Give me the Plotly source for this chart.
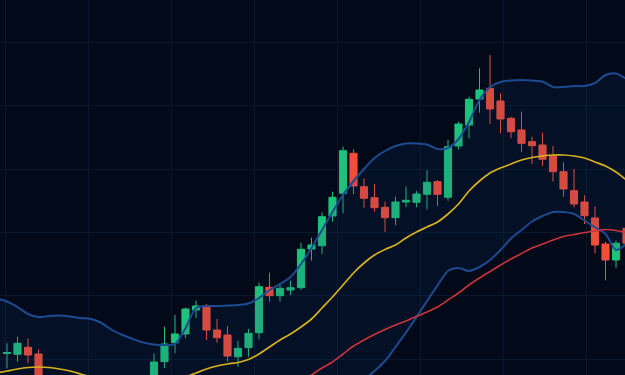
import plotly.graph_objects as go

# Candle index positions
candle_idx = list(range(60))

open_ = [14.65, 14.57, 15.27, 14.60, 10.50, 9.00, 10.00, 8.00, 7.00, 8.20,
         7.50, 9.00, 10.00, 9.20, 11.00, 13.83, 15.73, 16.60, 19.00, 19.43,
         17.00, 16.50, 14.33, 15.23, 16.73, 21.27, 20.43, 21.00, 21.23, 25.10,
         25.43, 28.40, 30.67, 34.67, 31.33, 30.23, 29.27, 28.23, 29.80, 29.77,
         30.57, 31.83, 30.27, 35.40, 37.50, 40.10, 41.17, 39.90, 38.17, 37.00,
         35.83, 35.50, 34.43, 32.83, 30.93, 29.80, 28.20, 25.60, 24.00, 27.17]
high = [15.67, 16.33, 16.17, 15.07, 11.20, 10.40, 10.60, 8.80, 8.80, 9.00,
        9.80, 10.50, 10.80, 11.40, 14.65, 17.33, 18.50, 19.23, 19.93, 19.60,
        18.10, 17.40, 15.93, 17.10, 21.73, 22.73, 21.67, 21.93, 25.73, 26.23,
        28.73, 30.83, 35.33, 35.07, 32.17, 31.60, 29.83, 30.33, 31.33, 30.90,
        33.00, 32.00, 36.00, 37.83, 40.33, 43.17, 44.50, 40.67, 38.33, 38.83,
        36.33, 36.73, 35.40, 33.77, 33.10, 30.47, 29.37, 25.83, 25.95, 27.80]
low = [13.17, 13.83, 13.67, 9.50, 8.20, 8.50, 7.20, 6.20, 6.40, 6.80,
       7.00, 8.50, 8.60, 8.80, 10.20, 13.20, 14.70, 16.20, 18.20, 16.00,
       15.73, 13.83, 13.33, 14.33, 16.07, 19.83, 19.83, 20.50, 21.00, 23.93,
       24.60, 27.83, 28.67, 30.57, 29.23, 28.83, 26.83, 27.50, 29.27, 29.27,
       29.07, 29.40, 29.93, 35.07, 36.17, 38.73, 37.60, 36.67, 36.17, 34.83,
       33.60, 33.40, 31.83, 30.33, 29.27, 27.60, 24.67, 21.97, 23.23, 25.00]
close = [14.75, 15.67, 14.50, 10.50, 9.00, 10.00, 8.00, 7.00, 8.20, 7.50,
         9.00, 10.00, 9.20, 10.80, 13.80, 15.60, 16.60, 19.10, 19.40, 17.00,
         16.23, 14.40, 15.17, 16.67, 21.33, 20.43, 21.17, 21.23, 25.07, 25.50,
         28.33, 30.27, 34.93, 31.40, 30.17, 29.23, 28.23, 29.80, 29.97, 30.60,
         31.77, 30.57, 35.33, 37.60, 40.07, 41.00, 39.10, 38.10, 36.83, 35.67,
         35.43, 34.07, 32.83, 31.10, 29.60, 28.43, 25.50, 24.00, 25.67, 25.67]

# Indicator lines (one value per index from -1 to 60)
line_idx = list(range(-1, 61))
upper_band = [20.15, 19.85, 19.30, 18.60, 18.30, 18.40, 18.45, 18.35, 18.20, 18.10,
              17.70, 17.00, 16.50, 16.10, 15.75, 15.55, 15.50, 15.60, 17.20, 19.20,
              19.40, 19.40, 19.45, 19.50, 19.65, 20.20, 21.00, 21.60, 22.30, 23.60,
              25.20, 27.00, 28.80, 30.50, 31.90, 33.10, 34.20, 34.90, 35.40, 35.65,
              35.65, 35.55, 35.10, 35.20, 36.10, 37.80, 40.00, 41.30, 41.80, 41.95,
              42.00, 41.95, 41.85, 41.30, 41.30, 41.40, 41.40, 41.70, 42.50, 42.65,
              42.10, 41.50]
middle_band = [12.70, 12.90, 13.10, 13.25, 13.30, 13.25, 13.10, 12.90, 12.60, 12.30,
               12.00, 11.70, 11.50, 11.40, 11.40, 11.50, 11.70, 12.00, 12.30, 12.70,
               13.10, 13.40, 13.60, 13.75, 14.05, 14.60, 15.30, 16.00, 16.60, 17.30,
               18.10, 19.20, 20.30, 21.50, 22.70, 23.70, 24.50, 25.05, 25.50, 26.20,
               26.80, 27.30, 27.80, 28.60, 29.60, 30.90, 31.90, 32.70, 33.20, 33.60,
               34.00, 34.25, 34.40, 34.50, 34.50, 34.40, 34.20, 33.80, 33.40, 32.80,
               32.00, 31.20]
lower_band = [5.20, 5.90, 6.80, 7.90, 8.30, 8.10, 7.80, 7.40, 7.00, 6.50,
              6.30, 6.40, 6.50, 6.70, 7.00, 7.40, 7.90, 8.40, 7.40, 6.20,
              6.80, 7.40, 7.70, 8.00, 8.40, 9.00, 9.60, 10.30, 10.80, 11.00,
              11.00, 11.20, 11.40, 11.60, 11.80, 12.10, 12.90, 13.90, 15.30, 16.75,
              18.30, 19.90, 21.45, 22.90, 23.20, 22.90, 23.30, 24.00, 25.00, 26.15,
              27.00, 27.85, 28.40, 28.80, 28.80, 28.60, 27.95, 27.25, 26.60, 25.00,
              25.60, 26.20]
slow_ma = [3.00, 3.20, 3.40, 3.60, 3.80, 3.90, 4.00, 4.10, 4.20, 4.30,
           4.40, 4.50, 4.70, 4.90, 5.10, 5.40, 5.70, 6.00, 6.40, 6.80,
           7.20, 7.60, 8.10, 8.60, 9.10, 9.60, 10.10, 10.60, 11.20, 11.80,
           12.50, 13.20, 13.80, 14.60, 15.40, 16.00, 16.55, 17.05, 17.50, 17.90,
           18.35, 18.80, 19.30, 20.00, 20.70, 21.50, 22.20, 22.85, 23.50, 24.10,
           24.65, 25.20, 25.60, 26.00, 26.35, 26.55, 26.75, 26.90, 27.05, 26.95,
           26.75, 26.60]

BG = "#020a1a"
BLUE = "#1c4b92"

fig = go.Figure()
fig.add_trace(go.Scatter(x=line_idx, y=lower_band, mode="lines",
                         line=dict(color=BLUE, width=2, shape="spline", smoothing=0.8),
                         hoverinfo="skip", showlegend=False))
fig.add_trace(go.Scatter(x=line_idx, y=upper_band, mode="lines",
                         line=dict(color=BLUE, width=2, shape="spline", smoothing=0.8),
                         fill="tonexty", fillcolor="rgba(25,60,120,0.13)",
                         hoverinfo="skip", showlegend=False))
fig.add_trace(go.Scatter(x=line_idx, y=slow_ma, mode="lines",
                         line=dict(color="#c9343b", width=1.6, shape="spline", smoothing=0.8),
                         hoverinfo="skip", showlegend=False))
fig.add_trace(go.Scatter(x=line_idx, y=middle_band, mode="lines",
                         line=dict(color="#d6b11c", width=1.7, shape="spline", smoothing=0.8),
                         hoverinfo="skip", showlegend=False))
fig.add_trace(go.Candlestick(
    x=candle_idx, open=open_, high=high, low=low, close=close,
    increasing=dict(line=dict(color="#1fc27a", width=1), fillcolor="#1fc27a"),
    decreasing=dict(line=dict(color="#f24e3a", width=1), fillcolor="#f24e3a"),
    whiskerwidth=0, showlegend=False))

fig.update_layout(
    width=625, height=375,
    margin=dict(l=0, r=0, t=0, b=0),
    paper_bgcolor=BG, plot_bgcolor=BG,
    showlegend=False,
    boxgap=0.32, boxgroupgap=0,
    xaxis=dict(range=[-0.667, 58.857], showticklabels=False, zeroline=False,
               showline=False, showgrid=True, gridcolor="#09172b", gridwidth=1,
               tick0=-0.19, dtick=7.905, rangeslider=dict(visible=False), ticks=""),
    yaxis=dict(range=[12.5, 50], showticklabels=False, zeroline=False,
               showline=False, showgrid=True, gridcolor="#09172b", gridwidth=1,
               tick0=14.07, dtick=6.333, ticks=""),
)

fig.write_html("out.html", config={"displayModeBar": False})

# remove the browser's default page margin so the figure sits at the window origin
with open("out.html", "r", encoding="utf-8") as f:
    html = f.read()
html = html.replace("<head>", "<head><style>html,body{margin:0;padding:0;background:#020a1a;overflow:hidden;}</style>", 1)
with open("out.html", "w", encoding="utf-8") as f:
    f.write(html)
